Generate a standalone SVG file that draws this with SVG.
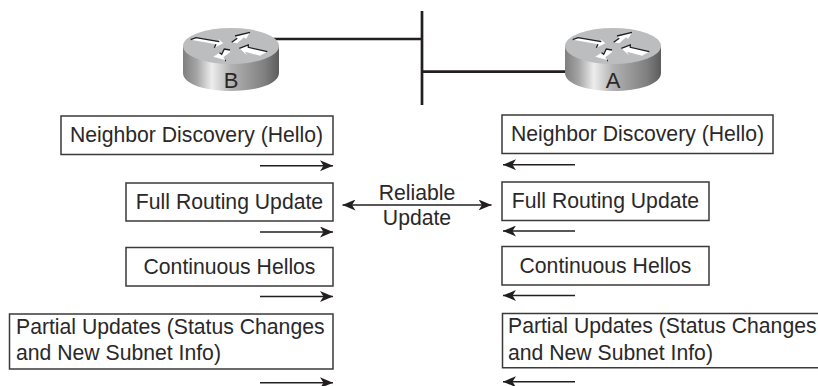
<svg xmlns="http://www.w3.org/2000/svg" width="818" height="386" viewBox="0 0 818 386">
<style>
text{font-family:"Liberation Sans",Arial,sans-serif;font-size:21.2px;fill:#2a2829}
.m{text-anchor:middle}
.box{fill:#fff;stroke:#3a3a3a;stroke-width:1.5}
.ln{stroke:#231f20;fill:none}
.w{fill:#fff}
.e{fill:none;stroke:#1f1d1e;stroke-width:1.3}
.lbl{font-size:22px}
</style>
<defs>
<linearGradient id="s" x1="0" x2="1" y1="0" y2="0">
<stop offset="0" stop-color="#7f7f7f"/><stop offset=".14" stop-color="#a4a4a4"/><stop offset=".3" stop-color="#ededed"/><stop offset=".5" stop-color="#b2b2b2"/><stop offset=".85" stop-color="#808080"/><stop offset="1" stop-color="#5c5c5c"/>
</linearGradient>
<marker id="a" viewBox="0 0 13 11" refX="13" refY="5.500" markerWidth="13" markerHeight="11" markerUnits="userSpaceOnUse" orient="auto-start-reverse"><path d="M0 0L13 5.500L0 11L3.500 5.500Z" fill="#231f20"/></marker>
<g id="router">
<path d="M-48 0V27C-48 38 -26 45 0 45S48 38 48 27V0Z" fill="url(#s)"/>
<ellipse cx="0" cy="0" rx="48" ry="18" fill="#bcbdbf"/>
<path class="w" d="M-40.300 -6.300L-35 -8.300L-11.700 -4.300L-12.700 -7L-7.700 -2.700L-16.700 1.700L-15 -1.700Z"/>
<path class="e" d="M-40.300 -6.300L-35 -8.300L-11.700 -4.300M-16.700 1.700L-15 -1.700"/>
<path class="w" d="M0.700 -3.700L6.300 -7.700L4 -10L19 -13.700L15 -7L13 -8.700L6.300 -2.700Z"/>
<path class="e" d="M0.700 -3.700L6.300 -7.700M4 -10L19 -13.700"/>
<path class="w" d="M-1 4L-6.700 3L-9.300 8.300L-11.500 6.700L-17.700 10.700L-6 14L-7.700 11.300L-1 6.300Z"/>
<path class="e" d="M-1 4L-6.700 3L-9.300 8.300L-11.500 6.700M-6 14.500L-5 14.500"/>
<path class="w" d="M8.300 2.300L17.300 -1L17.300 1.300L36.300 5.700L29 9.700L14 5.700L15.700 9Z"/>
<path class="e" d="M8.300 2.300L17.300 -1L17.300 1.300L36.300 5.700"/>
</g>
</defs>
<g id="connectors">
<path class="ln" stroke-width="2.700" d="M422 11V105M273 39H422M422 71.700H566"/>
<g stroke-width="1.500" class="ln">
<path marker-end="url(#a)" d="M260 165.700H333"/>
<path marker-end="url(#a)" d="M260 232H333"/>
<path marker-end="url(#a)" d="M260 296.500H333"/>
<path marker-end="url(#a)" d="M260 382.700H333"/>
<path marker-end="url(#a)" d="M575 164.700H503"/>
<path marker-end="url(#a)" d="M575 231H503"/>
<path marker-end="url(#a)" d="M575 295.500H503"/>
<path marker-end="url(#a)" d="M575 381.700H503"/>
<path marker-start="url(#a)" marker-end="url(#a)" d="M342.500 205H491.500"/>
</g>
</g>
<g id="router-b"><use href="#router" x="231" y="46"/><text class="m lbl" x="231" y="88">B</text></g>
<g id="router-a"><use href="#router" x="613" y="46"/><text class="m lbl" x="613" y="88">A</text></g>
<g id="b1"><rect class="box" x="61" y="116" width="272" height="38.500"/><text class="m" x="196.500" y="142">Neighbor Discovery (Hello)</text></g>
<g id="b2"><rect class="box" x="126" y="183" width="207" height="38"/><text class="m" x="229.500" y="209">Full Routing Update</text></g>
<g id="b3"><rect class="box" x="126" y="247.500" width="207" height="38.500"/><text class="m" x="229.500" y="274">Continuous Hellos</text></g>
<g id="b4"><rect class="box" x="9.500" y="314" width="323.500" height="55"/><text x="16" y="333.500">Partial Updates (Status Changes</text><text x="16" y="360">and New Subnet Info)</text></g>
<g id="a1"><rect class="box" x="502" y="115" width="271" height="38.500"/><text class="m" x="637.500" y="141">Neighbor Discovery (Hello)</text></g>
<g id="a2"><rect class="box" x="502" y="182" width="207" height="38.500"/><text class="m" x="605.500" y="208">Full Routing Update</text></g>
<g id="a3"><rect class="box" x="502" y="246.500" width="207" height="38.500"/><text class="m" x="605.500" y="273">Continuous Hellos</text></g>
<g id="a4"><path class="box" d="M818 313.500H502.500V367.700H818"/><text x="508" y="333">Partial Updates (Status Changes</text><text x="508" y="360">and New Subnet Info)</text></g>
<g id="label"><text class="m" x="417" y="200">Reliable</text><text class="m" x="417" y="225">Update</text></g>
</svg>
